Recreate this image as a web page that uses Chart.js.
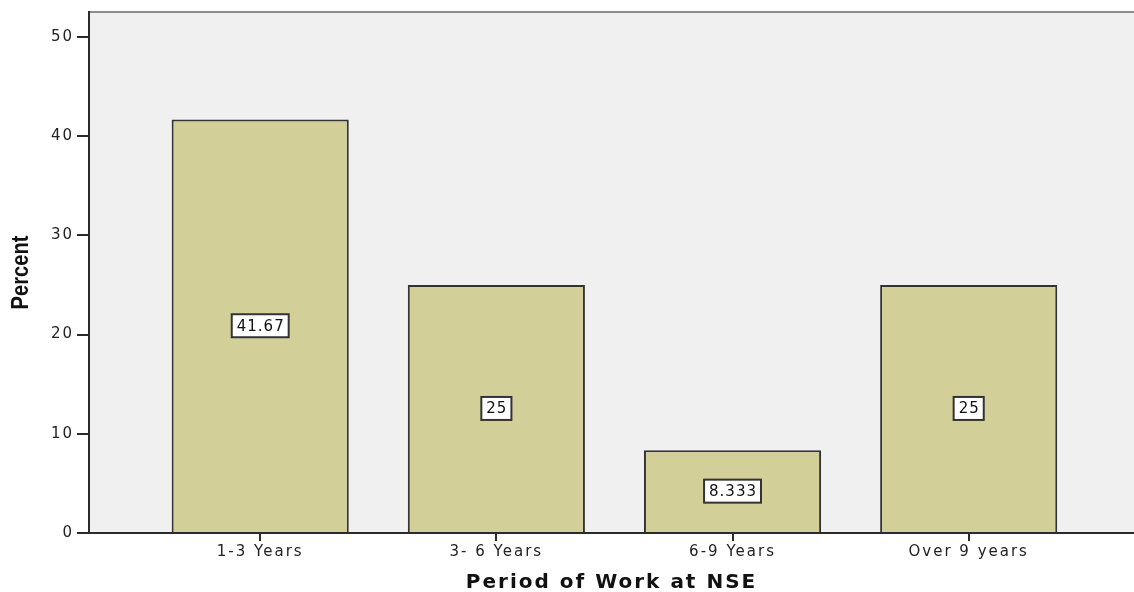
<!DOCTYPE html>
<html>
<head>
<meta charset="utf-8">
<script src="https://cdn.jsdelivr.net/npm/chart.js@4"></script>
<style>
  html, body { margin: 0; padding: 0; background: #fff; }
  #wrap { width: 1134px; height: 592px; }
</style>
</head>
<body>
<div id="wrap"><canvas id="chart-period"></canvas></div>
<script>
// Period of work at NSE, percent of respondents
const categories = ['1-3 Years', '3- 6 Years', '6-9 Years', 'Over 9 years'];
const percents = [41.67, 25, 8.333, 25];
const valueLabels = ['41.67', '25', '8.333', '25'];
const yTicks = [0, 10, 20, 30, 40, 50];

const INK = '#2b2b2b';
const FACE = '"DejaVu Sans", Verdana, sans-serif';

// gray plot background, the thin top frame line, and wide letter spacing for axis text
const plotFrame = {
  id: 'plotFrame',
  beforeDraw(chart) {
    const { ctx, chartArea: a } = chart;
    ctx.save();
    ctx.fillStyle = '#f0f0f0';
    ctx.fillRect(a.left, a.top, a.right - a.left, a.bottom - a.top);
    ctx.strokeStyle = '#8c8c8c';
    ctx.lineWidth = 2;
    ctx.beginPath();
    ctx.moveTo(a.left, a.top);
    ctx.lineTo(a.right, a.top);
    ctx.stroke();
    ctx.restore();
    ctx.letterSpacing = '2px';
  },
  afterDraw(chart) {
    // condensed bold y title
    const { ctx, chartArea: a } = chart;
    ctx.save();
    ctx.letterSpacing = '0px';
    ctx.translate(21, (a.top + a.bottom) / 2);
    ctx.rotate(-Math.PI / 2);
    ctx.scale(0.84, 1);
    ctx.font = 'bold 24px "Liberation Sans", Arial, sans-serif';
    ctx.fillStyle = '#111';
    ctx.textAlign = 'center';
    ctx.textBaseline = 'middle';
    ctx.fillText('Percent', 0, 0);
    ctx.restore();
  },
};

// boxed value label in the middle of every bar
const boxLabels = {
  id: 'boxLabels',
  afterDatasetsDraw(chart) {
    const { ctx } = chart;
    const meta = chart.getDatasetMeta(0);
    ctx.save();
    ctx.letterSpacing = '1px';
    ctx.font = '15px ' + FACE;
    ctx.textAlign = 'center';
    ctx.textBaseline = 'middle';
    meta.data.forEach((bar, i) => {
      const { x, y, base } = bar.getProps(['x', 'y', 'base'], true);
      const cy = (y + base) / 2;
      const txt = valueLabels[i];
      const w = ctx.measureText(txt).width + 9;
      const h = 23;
      ctx.fillStyle = '#fff';
      ctx.fillRect(x - w / 2, cy - h / 2, w, h);
      ctx.strokeStyle = '#333';
      ctx.lineWidth = 2;
      ctx.strokeRect(x - w / 2, cy - h / 2, w, h);
      ctx.fillStyle = '#111';
      ctx.fillText(txt, x + 0.5, cy + 1);
    });
    ctx.restore();
  },
};

new Chart(document.getElementById('chart-period'), {
  type: 'bar',
  data: {
    datasets: [{
      data: percents.map((v, i) => ({ x: i, y: v })),
      backgroundColor: '#d3cf98',
      borderColor: '#333',
      borderWidth: 2,
      categoryPercentage: 1,
      barPercentage: 0.75,
    }],
  },
  options: {
    responsive: true,
    maintainAspectRatio: false,
    animation: false,
    layout: { padding: { top: 11, right: 0, left: 0, bottom: 0 } },
    plugins: { legend: { display: false }, tooltip: { enabled: false } },
    scales: {
      x: {
        type: 'linear',
        offset: false,
        min: -0.725,
        max: 3.70,
        afterBuildTicks(scale) { scale.ticks = categories.map((_, i) => ({ value: i })); },
        afterFit(scale) { scale.height = 59; },
        ticks: {
          color: '#222',
          font: { family: FACE, size: 15 },
          padding: 2,
          maxRotation: 0,
          callback: (v) => categories[v],
        },
        grid: { offset: false, drawOnChartArea: false, color: INK, lineWidth: 2, tickLength: 8 },
        border: { color: INK, width: 2 },
        title: {
          display: true,
          text: 'Period of Work at NSE',
          color: '#111',
          font: { family: FACE, size: 20, weight: 'bold', lineHeight: 0.9 },
          padding: { top: 4, bottom: 0 },
        },
      },
      y: {
        min: 0,
        max: 52.5,
        afterBuildTicks(scale) { scale.ticks = yTicks.map((v) => ({ value: v })); },
        afterFit(scale) { scale.width = 89; },
        ticks: {
          color: '#222',
          font: { family: FACE, size: 15 },
          padding: 3,
        },
        grid: { drawOnChartArea: false, color: INK, lineWidth: 2, tickLength: 12 },
        border: { color: INK, width: 2 },
      },
    },
  },
  plugins: [plotFrame, boxLabels],
});
</script>
</body>
</html>
